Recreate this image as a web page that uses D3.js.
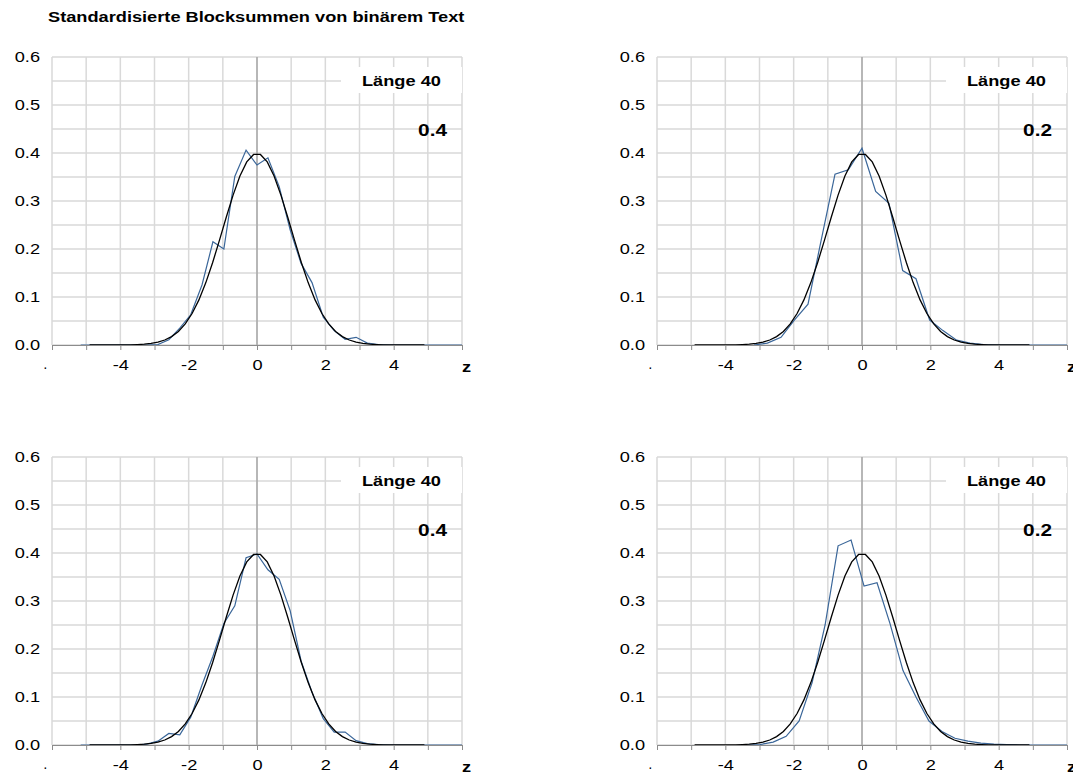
<!DOCTYPE html>
<html>
<head>
  <meta charset="utf-8">
  <title>Blocksummen</title>
  <script src="https://cdn.jsdelivr.net/npm/d3@7"></script>
  <style>
    body { margin: 0; background: #fff; }
    svg { font-family: "Liberation Sans", Arial, sans-serif; }
    .grid line { stroke: #d9d9d9; stroke-width: 1.5; }
    .zero { stroke: #8c8c8c; stroke-width: 1; }
    .x.axis path, .x.axis line { stroke: #8c8c8c; }
    .axis text { font-size: 14px; fill: #000; }
    .blue { fill: none; stroke: #3a6699; stroke-width: 1.2; }
    .black { fill: none; stroke: #000; stroke-width: 1.3; }
  </style>
</head>
<body>
<script>

  // z grid for p = 0.4 panels
  var zP04 = [-5.16, -4.84, -4.52, -4.19, -3.87, -3.55, -3.23, -2.90, -2.58, -2.26, -1.94, -1.61,
              -1.29, -0.97, -0.65, -0.32, 0, 0.32, 0.65, 0.97, 1.29, 1.61, 1.94, 2.26,
              2.58, 2.90, 3.23, 3.55, 3.87, 4.19, 4.52, 4.84, 5.16, 5.49, 5.81, 6.13];

  var blueTL = [0, 0, 0, 0, 0, 0, 0, 0.001, 0.011, 0.035, 0.063, 0.125,
                0.215, 0.200, 0.351, 0.406, 0.375, 0.390, 0.330, 0.240, 0.170, 0.130, 0.058, 0.030,
                0.012, 0.016, 0.004, 0.001, 0, 0, 0, 0, 0, 0, 0, 0];

  var blueBL = [0, 0, 0, 0, 0, 0, 0.002, 0.008, 0.024, 0.021, 0.058, 0.125,
                0.185, 0.253, 0.290, 0.390, 0.398, 0.365, 0.345, 0.280, 0.175, 0.110, 0.055, 0.027,
                0.027, 0.009, 0.003, 0.001, 0, 0, 0, 0, 0, 0, 0, 0];

  // z grid for p = 0.2 (top right)
  var zP02 = [-3.16, -2.77, -2.37, -1.98, -1.58, -1.19, -0.79, -0.40, 0, 0.40, 0.79, 1.19, 1.58,
              1.98, 2.37, 2.77, 3.16, 3.56, 3.95, 4.35, 4.74, 5.14, 5.53, 5.93, 6.32];

  var blueTR = [0, 0.004, 0.016, 0.052, 0.085, 0.220, 0.356, 0.365, 0.410, 0.320, 0.295, 0.155, 0.138,
                0.052, 0.030, 0.010, 0.004, 0.001, 0, 0, 0, 0, 0, 0, 0];

  // z grid bottom right
  var zBR = [-3.36, -2.98, -2.60, -2.22, -1.84, -1.46, -1.08, -0.70, -0.32, 0.06, 0.44, 0.82, 1.20,
             1.58, 1.96, 2.34, 2.72, 3.10, 3.48, 3.86, 4.24, 4.62, 5.00, 5.38, 5.76, 6.14];

  var blueBR = [0, 0.001, 0.006, 0.018, 0.050, 0.130, 0.250, 0.415, 0.427, 0.331, 0.338, 0.253, 0.155,
                0.100, 0.050, 0.028, 0.014, 0.008, 0.004, 0.002, 0.001, 0, 0, 0, 0, 0];

  // normal density curve
  var zNorm = [-4.9, -4.7, -4.5, -4.3, -4.1, -3.9, -3.7, -3.5, -3.3, -3.1, -2.9, -2.7, -2.5,
               -2.3, -2.1, -1.9, -1.7, -1.5, -1.3, -1.1, -0.9, -0.7, -0.5, -0.3, -0.1,
               0.1, 0.3, 0.5, 0.7, 0.9, 1.1, 1.3, 1.5, 1.7, 1.9, 2.1, 2.3, 2.5,
               2.7, 2.9, 3.1, 3.3, 3.5, 3.7, 3.9, 4.1, 4.3, 4.5, 4.7, 4.9];

  var normPdf = [0, 0, 0, 0, 0.0001, 0.0002, 0.0004, 0.0009, 0.0017, 0.0033, 0.0060, 0.0104, 0.0175,
                 0.0283, 0.0440, 0.0656, 0.0940, 0.1295, 0.1714, 0.2179, 0.2661, 0.3123, 0.3521, 0.3814, 0.3970,
                 0.3970, 0.3814, 0.3521, 0.3123, 0.2661, 0.2179, 0.1714, 0.1295, 0.0940, 0.0656, 0.0440, 0.0283, 0.0175,
                 0.0104, 0.0060, 0.0033, 0.0017, 0.0009, 0.0004, 0.0002, 0.0001, 0, 0, 0, 0];

  var xTickLabels = [-4, -2, 0, 2, 4];
  var title = "Standardisierte Blocksummen von binärem Text";
  var lengthLabel = "Länge 40";

  var width = 410, height = 288,
      wide = 1.3;   // the original text is drawn a bit wider than it is tall

  var panels = [
    {left: 52,  top: 57,  z: zP04, v: blueTL, label: "0.4"},
    {left: 657, top: 57,  z: zP02, v: blueTR, label: "0.2"},
    {left: 52,  top: 457, z: zP04, v: blueBL, label: "0.4"},
    {left: 657, top: 457, z: zBR,  v: blueBR, label: "0.2"}
  ];

  // stretch text horizontally
  function stretch(sel) {
    sel.each(function () {
      var w = this.getComputedTextLength();
      if (w > 0) {
        d3.select(this)
            .attr("textLength", w * wide)
            .attr("lengthAdjust", "spacingAndGlyphs");
      }
    });
  }

  var svg = d3.select("body").append("svg")
      .attr("width", 1073)
      .attr("height", 772);

  svg.append("text")
      .attr("x", 48)
      .attr("y", 22)
      .style("font-size", "14px")
      .style("font-weight", "bold")
      .text(title)
      .call(stretch);

  var x = d3.scaleLinear().domain([-6, 6]).range([0, width]);
  var y = d3.scaleLinear().domain([0, 0.6]).range([height, 0]);

  var line = d3.line()
      .x(function (d) { return x(d[0]); })
      .y(function (d) { return y(d[1]); });

  svg.append("defs").append("clipPath")
      .attr("id", "plotClip")
      .append("rect")
      .attr("width", width)
      .attr("height", height);

  panels.forEach(function (p) {
    var g = svg.append("g")
        .attr("transform", "translate(" + p.left + "," + p.top + ")");

    // grid
    var grid = g.append("g").attr("class", "grid");
    grid.selectAll("line.v")
        .data(x.ticks(12))
        .enter().append("line")
        .attr("x1", function (d) { return x(d); })
        .attr("x2", function (d) { return x(d); })
        .attr("y1", 0)
        .attr("y2", height);
    grid.selectAll("line.h")
        .data(y.ticks(12))
        .enter().append("line")
        .attr("x1", 0)
        .attr("x2", width)
        .attr("y1", function (d) { return y(d); })
        .attr("y2", function (d) { return y(d); });

    // legend box
    g.append("rect")
        .attr("x", width - 121)
        .attr("y", 10)
        .attr("width", 121)
        .attr("height", 26)
        .attr("fill", "#fff");
    g.append("text")
        .attr("x", width - 100)
        .attr("y", 29)
        .style("font-size", "14px")
        .style("font-weight", "bold")
        .text(lengthLabel)
        .call(stretch);
    g.append("text")
        .attr("x", width - 15)
        .attr("y", 79)
        .attr("text-anchor", "end")
        .style("font-size", "16px")
        .style("font-weight", "bold")
        .text(p.label)
        .call(stretch);

    // zero line
    g.append("line")
        .attr("class", "zero")
        .attr("x1", x(0))
        .attr("x2", x(0))
        .attr("y1", 0)
        .attr("y2", height);

    // y axis
    var yAxis = d3.axisLeft(y)
        .ticks(6)
        .tickSize(0)
        .tickPadding(12)
        .tickFormat(d3.format(".1f"));
    var yg = g.append("g").attr("class", "y axis").call(yAxis);
    yg.select(".domain").remove();

    // x axis
    var xAxis = d3.axisBottom(x)
        .tickValues(x.ticks(12))
        .tickSizeInner(5)
        .tickSizeOuter(0)
        .tickPadding(10)
        .tickFormat(function (d) { return xTickLabels.indexOf(d) >= 0 ? d : ""; });
    g.append("g")
        .attr("class", "x axis")
        .attr("transform", "translate(0," + height + ")")
        .call(xAxis);
    g.selectAll(".axis").attr("font-family", null).attr("font-size", null);
    g.selectAll(".axis text").call(stretch);

    g.append("text")
        .attr("x", -9)
        .attr("y", height + 27)
        .style("font-size", "14px")
        .text("·");
    g.append("text")
        .attr("x", width)
        .attr("y", height + 27)
        .style("font-size", "14px")
        .style("font-weight", "bold")
        .text("z")
        .call(stretch);

    // series
    var lines = g.append("g").attr("clip-path", "url(#plotClip)");
    lines.append("path")
        .attr("class", "blue")
        .attr("d", line(d3.zip(p.z, p.v)));
    lines.append("path")
        .attr("class", "black")
        .attr("d", line(d3.zip(zNorm, normPdf)));
  });

</script>
</body>
</html>
